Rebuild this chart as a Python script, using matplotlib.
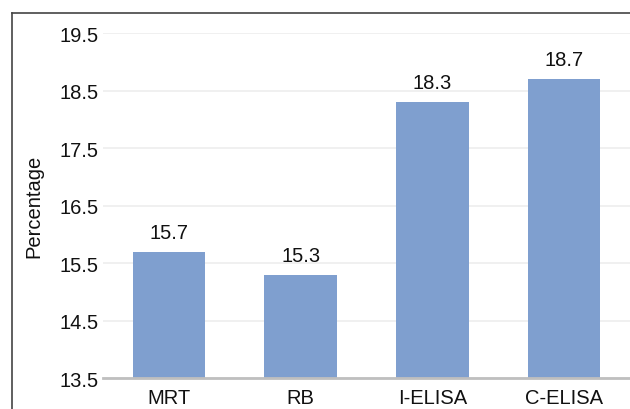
import matplotlib
matplotlib.use("Agg")
import matplotlib.pyplot as plt
from matplotlib.lines import Line2D

categories = ["MRT", "RB", "I-ELISA", "C-ELISA"]
values = [15.7, 15.3, 18.3, 18.7]
yticks = [13.5, 14.5, 15.5, 16.5, 17.5, 18.5, 19.5]

plt.rcParams['font.family'] = ['Liberation Sans', 'DejaVu Sans']
FS = 14.5

fig = plt.figure(figsize=(6.3, 4.1), dpi=100)
ax = fig.add_axes([103/630, 1-379/410, 1-103/630, (379-34)/410])

x = list(range(len(categories)))
ax.bar(x, values, width=0.55, color="#7f9fcf", zorder=3)
for xi, v in zip(x, values):
    ax.annotate(f"{v}", (xi, v), xytext=(0, 7), textcoords="offset points",
                ha="center", va="bottom", fontsize=FS, color="#111111")

ax.set_xlim(-0.5, 3.5)
ax.set_ylim(13.5, 19.5)
ax.set_yticks(yticks)
ax.set_yticklabels([f"{t}" for t in yticks])
ax.set_xticks(x)
ax.set_xticklabels(categories)
ax.tick_params(axis='both', labelsize=FS, colors="#111111", length=0)
ax.tick_params(axis='y', pad=3)
ax.tick_params(axis='x', pad=7)
ax.grid(axis='y', color="#eeeeee", linewidth=1.2, zorder=0)
for s in ["top", "right", "left"]:
    ax.spines[s].set_visible(False)
ax.spines["bottom"].set_color("#bfbfbf")
ax.spines["bottom"].set_linewidth(2)
ax.spines["bottom"].set_zorder(4)
ax.set_ylabel("Percentage", fontsize=FS, color="#111111", labelpad=12)

# outer frame (partially cut at right/bottom)
fx = 11.5/630
fy = 1 - 13.5/410
fig.add_artist(Line2D([fx, fx], [0, fy], transform=fig.transFigure, color="#444444", linewidth=1.2))
fig.add_artist(Line2D([fx, 1], [fy, fy], transform=fig.transFigure, color="#444444", linewidth=1.2))

fig.savefig("out.png", dpi=100)
